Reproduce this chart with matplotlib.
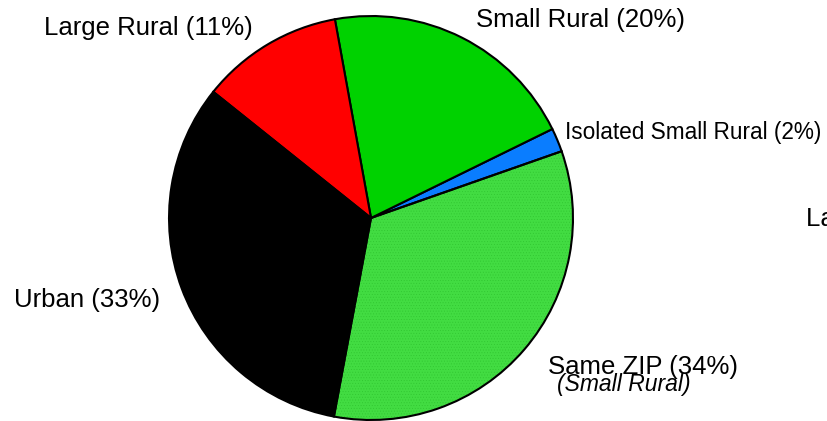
import matplotlib.pyplot as plt

# slice shares (percent), counterclockwise from the small blue slice
categories = ["Isolated Small Rural", "Small Rural", "Large Rural", "Urban", "Same ZIP"]
shares = [1.9, 20.6, 11.4, 32.8, 33.3]
label_pct = [2, 20, 11, 33, 34]
colors = ["#0a7dff", "#00d200", "#ff0000", "#000000", "#42dc42"]

plt.rcParams["font.family"] = ["Liberation Sans", "DejaVu Sans"]
plt.rcParams["hatch.linewidth"] = 0.3

W, H = 827, 421
fig = plt.figure(figsize=(W / 100, H / 100), dpi=100)

# pie centre at (371, 218) px, radius 204 px
cx, cy, r = 371, 218, 204
ax = fig.add_axes([(cx - r) / W, (H - cy - r) / H, 2 * r / W, 2 * r / H])
wedges, _ = ax.pie(shares, colors=colors, startangle=19.3, counterclock=True,
                   wedgeprops=dict(edgecolor="black", linewidth=1.5))

# fine dotted texture on the Same ZIP slice (second pass, no outlines)
tex_wedges, _ = ax.pie(shares, startangle=19.3, counterclock=True,
                       colors=["none"] * len(shares),
                       wedgeprops=dict(linewidth=0))
tex = tex_wedges[-1]
tex.set_hatch("......")
tex.set_edgecolor("#2fc42f")
tex.set_linewidth(0)
# redraw the outline on top of the texture
wedges[-1].set_zorder(tex.get_zorder() + 1)
wedges[-1].set_facecolor("none")
ax.pie([shares[-1], 100 - shares[-1]], startangle=19.3 - 3.6 * shares[-1],
       colors=[colors[-1], "none"], wedgeprops=dict(linewidth=0, zorder=0))

ax.set_xlim(-1.01, 1.01)
ax.set_ylim(-1.01, 1.01)
ax.set_aspect("equal")
ax.axis("off")


def px_text(x, y, s, size=18.5, **kw):
    fig.text(x / W, 1 - y / H, s, fontsize=size, va="center", ha="left", **kw)


px_text(565, 133, f"{categories[0]} ({label_pct[0]}%)", size=16.3)
px_text(476, 20, f"{categories[1]} ({label_pct[1]}%)")
px_text(44, 28, f"{categories[2]} ({label_pct[2]}%)")
px_text(14, 300, f"{categories[3]} ({label_pct[3]}%)")
px_text(548, 367, f"{categories[4]} ({label_pct[4]}%)")
px_text(557, 385, "(Small Rural)", size=16.5, style="italic")
px_text(806, 219, "Large Rural")

fig.savefig("out.png", dpi=100)
